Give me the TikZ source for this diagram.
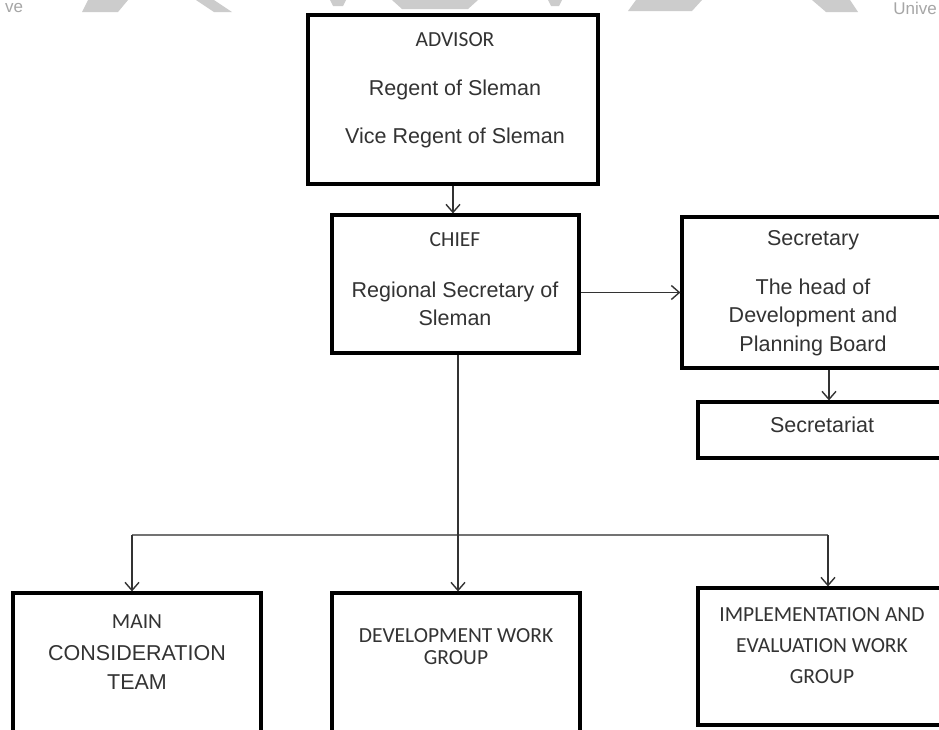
\documentclass[tikz,border=0pt]{standalone}
\usepackage{fontspec}
\setmainfont{Liberation Sans}
\newfontfamily\calfont{Carlito}
\usetikzlibrary{arrows.meta}

\tikzset{
  box/.style={draw=black, line width=3.2pt, fill=white, inner sep=0pt},
  conn/.style={draw=black!80, line width=1.4pt, -{Straight Barb[length=8pt,width=14pt,line width=1.4pt]}},
  bus/.style={draw=black!55, line width=1.4pt},
  lbl/.style={text=black!80, inner sep=0pt, align=center, font=\fontsize{21.5}{28.5}\selectfont},
  clbl/.style={lbl, font=\calfont\fontsize{21.5}{30}\selectfont},
  wm/.style={fill=black!20, draw=none},
}

\begin{document}
\begin{tikzpicture}[x=1pt, y=-1pt]
\useasboundingbox (0,0) rectangle (939,729);
\fill[white] (0,0) rectangle (939,729);

% faint fragments of the page watermark along the top edge
\fill[wm] (88,0) -- (128,0) -- (118,12) -- (82,12) -- cycle;
\fill[wm] (196,0) -- (214,0) -- (232,12) -- (214,12) -- cycle;
\fill[wm] (330,0) -- (346,0) -- (343,6) -- (333,6) -- cycle;
\fill[wm] (392,0) -- (478,0) -- (468,9) -- (402,9) -- cycle;
\fill[wm] (548,0) -- (562,0) -- (559,6) -- (551,6) -- cycle;
\fill[wm] (636,0) -- (702,0) -- (692,11) -- (628,11) -- cycle;
\fill[wm] (812,0) -- (850,0) -- (858,12) -- (826,12) -- cycle;
\node[anchor=north west, text=black!35, inner sep=0pt, font=\fontsize{17}{17}\selectfont] (wmL) at (5,3) {ve};
\node[anchor=north east, text=black!35, inner sep=0pt, font=\fontsize{17}{17}\selectfont] (wmR) at (937,2) {Unive};

% boxes
\node[box, minimum width=290pt, minimum height=169pt] (adv) at (453,99.5) {};
\node[box, minimum width=247pt, minimum height=138pt] (chief) at (455.5,284) {};
\node[box, minimum width=263pt, minimum height=151pt] (sec) at (813.5,292.5) {};
\node[box, minimum width=248pt, minimum height=56pt] (sect) at (822,430) {};
\node[box, minimum width=248pt, minimum height=142pt] (main) at (137,664) {};
\node[box, minimum width=248pt, minimum height=142pt] (dev) at (456,664) {};
\node[box, minimum width=252pt, minimum height=137pt] (impl) at (824,656.5) {};

% texts
\node[clbl] (advT) at (455,40) {ADVISOR};
\node[lbl] (advA) at (455,90) {Regent of Sleman};
\node[lbl] (advB) at (455,138) {Vice Regent of Sleman};

\node[clbl] (chiefT) at (455,240) {CHIEF};
\node[lbl] (chiefA) at (455,304) {Regional Secretary of\\Sleman};

\node[lbl] (secT) at (813,240) {Secretary};
\node[lbl] (secA) at (813,317) {The head of\\Development and\\Planning Board};

\node[lbl] (sectT) at (822,425) {Secretariat};

\node[clbl] (mainT) at (137,622) {MAIN};
\node[lbl] (mainA) at (137,667.5) {CONSIDERATION\\TEAM};

\node[clbl, font=\calfont\fontsize{21.5}{22}\selectfont] (devT) at (456,647) {DEVELOPMENT WORK\\GROUP};

\node[clbl, font=\calfont\fontsize{21.5}{31}\selectfont] (implT) at (822,646) {IMPLEMENTATION AND\\EVALUATION WORK\\GROUP};

% connectors
\coordinate (busL) at (132,535);
\coordinate (busR) at (828,535);

\draw[conn] (adv.south) -- (adv.south |- chief.north);
\draw[conn] (sec.west -| chief.east) -- (sec.west);
\draw[conn] ([xshift=15.5pt]sec.south) -- ([xshift=15.5pt]sec.south |- sect.north);
\draw[bus] (busL) -- (busR);
\draw[conn] ([xshift=2.5pt]chief.south) -- ([xshift=2.5pt]chief.south |- dev.north);
\draw[conn] (busL) -- (busL |- main.north);
\draw[conn] (busR) -- (busR |- impl.north);
\end{tikzpicture}
\end{document}
